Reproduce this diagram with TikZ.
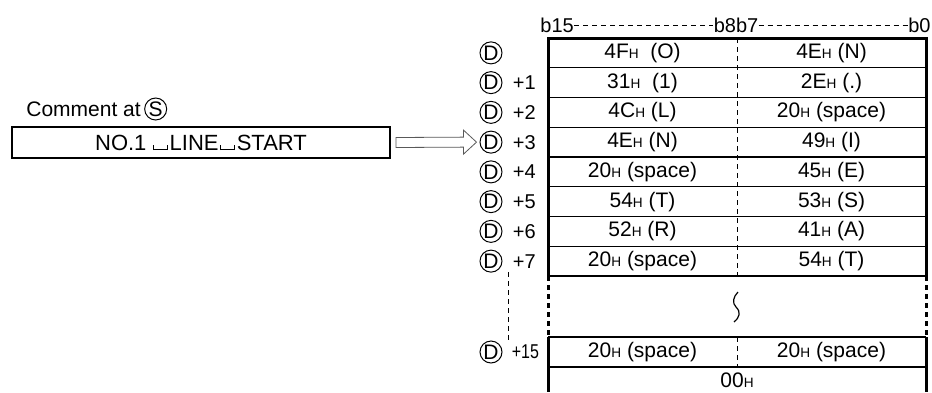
\documentclass[tikz,border=0pt]{standalone}
\usepackage{fontspec}
\setmainfont{Liberation Sans}
\usetikzlibrary{positioning, calc}
\newcommand\hx[1]{#1{\fontsize{6.8}{8}\selectfont H}}
\newcommand\vspc{\kern0.8pt\rule{0.5pt}{2.5pt}\rule{6.5pt}{0.5pt}\rule{0.5pt}{2.5pt}\kern0.8pt}

\begin{document}
\begin{tikzpicture}[
    x=0.5pt, y=-0.5pt,
    cell/.style={inner sep=0pt, font=\fontsize{10.5}{12}\selectfont},
    circD/.style={circle, draw, line width=0.5pt, minimum size=11pt, inner sep=0pt,
                  font=\fontsize{10.5}{12}\selectfont},
    offs/.style={inner sep=0pt, font=\fontsize{10}{12}\selectfont},
    bit/.style={inner sep=0pt, font=\fontsize{10}{12}\selectfont},
    thinrule/.style={line width=0.6pt},
    border/.style={line width=1.5pt},
    gapborder/.style={line width=1.5pt, dash pattern=on 2.5pt off 2pt},
    divider/.style={line width=0.5pt, dash pattern=on 2.5pt off 2pt},
    hollow/.style={draw=black!65, fill=white, line width=0.4pt}
]
\useasboundingbox (0,0) rectangle (932,392);
% bit header
\node[bit, anchor=west] (b15) at (540,25) {b15};
\node[bit] (b87) at (736,25) {b8b7};
\node[bit, anchor=east] (b0) at (931,25) {b0};
\draw[divider] (b15.east) -- (b87.west);
\draw[divider] (b87.east) -- (b0.west);
% word frame
\draw[border] (548,276) -- (548,38) -- (926,38) -- (926,276);
\draw[gapborder] (548,276) -- (548,337);
\draw[gapborder] (926,276) -- (926,337);
\draw[border] (548,337) -- (548,392);
\draw[border] (926,337) -- (926,392);
\foreach \k in {1,...,8}
    \draw[thinrule] (548,{38+29.75*\k}) -- (926,{38+29.75*\k});
\draw[thinrule] (548,337) -- (926,337);
\draw[thinrule] (548,367) -- (926,367);
\draw[divider] (737,38) -- (737,276);
\draw[divider] (737,337) -- (737,367);
% omitted words
\draw[line width=0.6pt] (738,292) .. controls (733,297) and (732,303) .. (736,307)
    .. controls (741,312) and (740,317) .. (734,322);
% stored characters
\foreach \i/\lft/\rgt in {0/{\hx{4F}\ \ (O)}/{\hx{4E} (N)},
                          1/{\hx{31}\ \ (1)}/{\hx{2E} (.)},
                          2/{\hx{4C} (L)}/{\hx{20} (space)},
                          3/{\hx{4E} (N)}/{\hx{49} (I)},
                          4/{\hx{20} (space)}/{\hx{45} (E)},
                          5/{\hx{54} (T)}/{\hx{53} (S)},
                          6/{\hx{52} (R)}/{\hx{41} (A)},
                          7/{\hx{20} (space)}/{\hx{54} (T)}} {
    \pgfmathsetmacro\yc{38+29.75*(\i+0.5)}
    \node[cell] (l\i) at (642.5,\yc) {\lft};
    \node[cell] (r\i) at (831.5,\yc) {\rgt};
    \node[circD] (d\i) at (491,\yc) {D};
    \ifnum\i>0 \node[offs, right=5pt of d\i] (o\i) {+\i}; \fi
}
\node[cell] (l15) at (642.5,352) {\hx{20} (space)};
\node[cell] (r15) at (831.5,352) {\hx{20} (space)};
\node[circD] (d15) at (491,352) {D};
\node[offs, right=4.5pt of d15] (o15) {\scalebox{0.8}[1]{+15}};
\node[cell] (nul) at (737,380) {\hx{00}};
\draw[divider] (508,272) -- (508,342);
% source comment
\node[cell, anchor=west] (cmt) at (26,109) {Comment at};
\node[circD, right=1.5pt of cmt] (sc) {S};
\node[draw, line width=1pt, minimum width=189pt, minimum height=15.5pt,
      inner sep=0pt, font=\fontsize{11}{13}\selectfont] (cbox) at (201,142.5)
      {NO.1\kern2.5pt\vspc LINE\vspc START};
% transfer arrow
\coordinate (as) at ($(cbox.east)+(5,0)$);
\coordinate (at) at ($(d3.west)+(-3,0)$);
\draw[hollow] ($(as)+(0,-5)$) -- ($(at)+(-13,-5)$) -- ($(at)+(-13,-12)$) -- (at)
    -- ($(at)+(-13,12)$) -- ($(at)+(-13,5)$) -- ($(as)+(0,5)$) -- cycle;
\end{tikzpicture}
\end{document}
